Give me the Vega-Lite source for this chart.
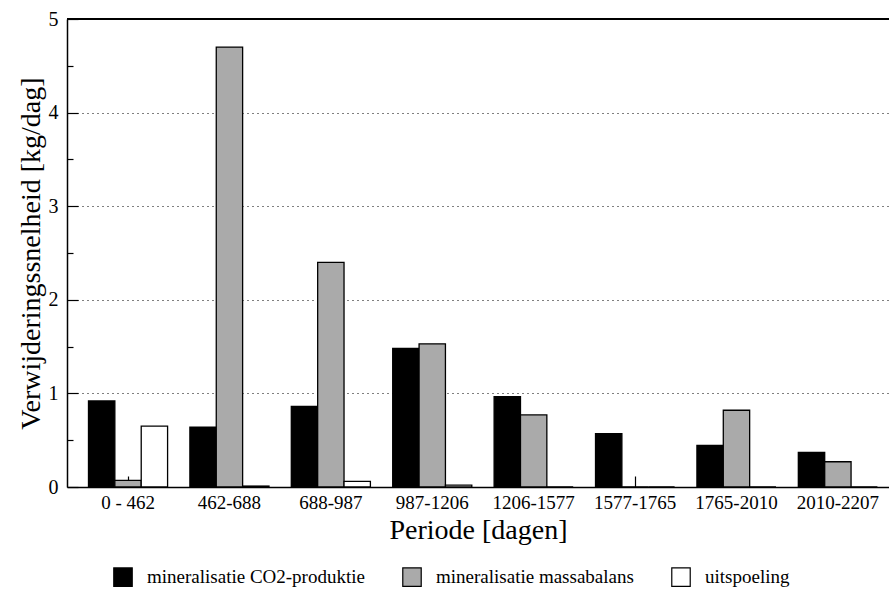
{
  "$schema": "https://vega.github.io/schema/vega-lite/v6.json",
  "width": 822,
  "height": 468,
  "autosize": {"type": "none"},
  "padding": {"left": 67, "top": 19, "right": 0, "bottom": 103},
  "background": "white",
  "config": {
    "view": {"stroke": null},
    "font": "Liberation Serif",
    "axis": {
      "domainColor": "black",
      "domainWidth": 1.5,
      "tickColor": "black",
      "tickWidth": 1.2,
      "labelColor": "black",
      "titleColor": "black",
      "labelFont": "Liberation Serif",
      "titleFont": "Liberation Serif",
      "titleFontWeight": "normal",
      "labelFontSize": 19,
      "titleFontSize": 28
    }
  },
  "data": {
    "values": [
      {"periode": "0 - 462", "reeks": "mineralisatie CO2-produktie", "waarde": 0.92},
      {"periode": "0 - 462", "reeks": "mineralisatie massabalans", "waarde": 0.07},
      {"periode": "0 - 462", "reeks": "uitspoeling", "waarde": 0.65},
      {"periode": "462-688", "reeks": "mineralisatie CO2-produktie", "waarde": 0.64},
      {"periode": "462-688", "reeks": "mineralisatie massabalans", "waarde": 4.7},
      {"periode": "462-688", "reeks": "uitspoeling", "waarde": 0.01},
      {"periode": "688-987", "reeks": "mineralisatie CO2-produktie", "waarde": 0.86},
      {"periode": "688-987", "reeks": "mineralisatie massabalans", "waarde": 2.4},
      {"periode": "688-987", "reeks": "uitspoeling", "waarde": 0.06},
      {"periode": "987-1206", "reeks": "mineralisatie CO2-produktie", "waarde": 1.48},
      {"periode": "987-1206", "reeks": "mineralisatie massabalans", "waarde": 1.53},
      {"periode": "987-1206", "reeks": "uitspoeling", "waarde": 0.02},
      {"periode": "1206-1577", "reeks": "mineralisatie CO2-produktie", "waarde": 0.965},
      {"periode": "1206-1577", "reeks": "mineralisatie massabalans", "waarde": 0.77},
      {"periode": "1206-1577", "reeks": "uitspoeling", "waarde": 0},
      {"periode": "1577-1765", "reeks": "mineralisatie CO2-produktie", "waarde": 0.57},
      {"periode": "1577-1765", "reeks": "mineralisatie massabalans", "waarde": 0},
      {"periode": "1577-1765", "reeks": "uitspoeling", "waarde": 0},
      {"periode": "1765-2010", "reeks": "mineralisatie CO2-produktie", "waarde": 0.445},
      {"periode": "1765-2010", "reeks": "mineralisatie massabalans", "waarde": 0.82},
      {"periode": "1765-2010", "reeks": "uitspoeling", "waarde": 0},
      {"periode": "2010-2207", "reeks": "mineralisatie CO2-produktie", "waarde": 0.37},
      {"periode": "2010-2207", "reeks": "mineralisatie massabalans", "waarde": 0.27},
      {"periode": "2010-2207", "reeks": "uitspoeling", "waarde": 0}
    ]
  },
  "layer": [
    {
      "mark": {"type": "bar", "stroke": "black", "strokeWidth": 1.3},
      "encoding": {
        "x": {
          "field": "periode",
          "type": "nominal",
          "sort": null,
          "scale": {"paddingInner": 0.22, "paddingOuter": 0.163, "align": 0.65},
          "axis": {
            "title": "Periode [dagen]",
            "labelAngle": 0,
            "labelFont": "Liberation Serif",
            "labelFontSize": 19,
            "tickSize": -11,
            "labelPadding": 17,
            "titlePadding": 4,
            "grid": false
          }
        },
        "xOffset": {
          "field": "reeks",
          "type": "nominal",
          "sort": ["mineralisatie CO2-produktie", "mineralisatie massabalans", "uitspoeling"]
        },
        "y": {
          "field": "waarde",
          "type": "quantitative",
          "scale": {"domain": [0, 5], "nice": false},
          "axis": {
            "title": "Verwijderingssnelheid [kg/dag]",
            "values": [0, 0.5, 1, 1.5, 2, 2.5, 3, 3.5, 4, 4.5, 5],
            "labelExpr": "datum.value % 1 === 0 ? format(datum.value, 'd') : ''",
            "labelFont": "Liberation Serif",
            "labelFontSize": 20,
            "tickSize": {"condition": {"test": "datum.value % 1 === 0", "value": -11}, "value": -6},
            "labelPadding": 20,
            "titlePadding": 3,
            "grid": true,
            "gridColor": "black",
            "gridDash": [1, 4],
            "gridWidth": 1,
            "gridOpacity": {"condition": {"test": "datum.value % 1 === 0 && datum.value > 0 && datum.value < 5", "value": 1}, "value": 0}
          }
        },
        "fill": {
          "field": "reeks",
          "type": "nominal",
          "scale": {
            "domain": ["mineralisatie CO2-produktie", "mineralisatie massabalans", "uitspoeling"],
            "range": ["black", "#aaaaaa", "white"]
          },
          "legend": {
            "orient": "none",
            "legendX": 46,
            "legendY": 548,
            "direction": "horizontal",
            "title": null,
            "symbolType": "square",
            "symbolSize": 340,
            "symbolStrokeColor": "black",
            "symbolStrokeWidth": 1.2,
            "symbolOpacity": 1,
            "labelFont": "Liberation Serif",
            "labelFontSize": 19,
            "labelColor": "black",
            "labelOffset": 14,
            "columnPadding": 35,
            "labelLimit": 400,
            "padding": 0
          }
        }
      }
    },
    {
      "mark": {"type": "rule", "color": "black", "strokeWidth": 1.5},
      "encoding": {"y": {"datum": 5, "type": "quantitative"}}
    }
  ]
}
